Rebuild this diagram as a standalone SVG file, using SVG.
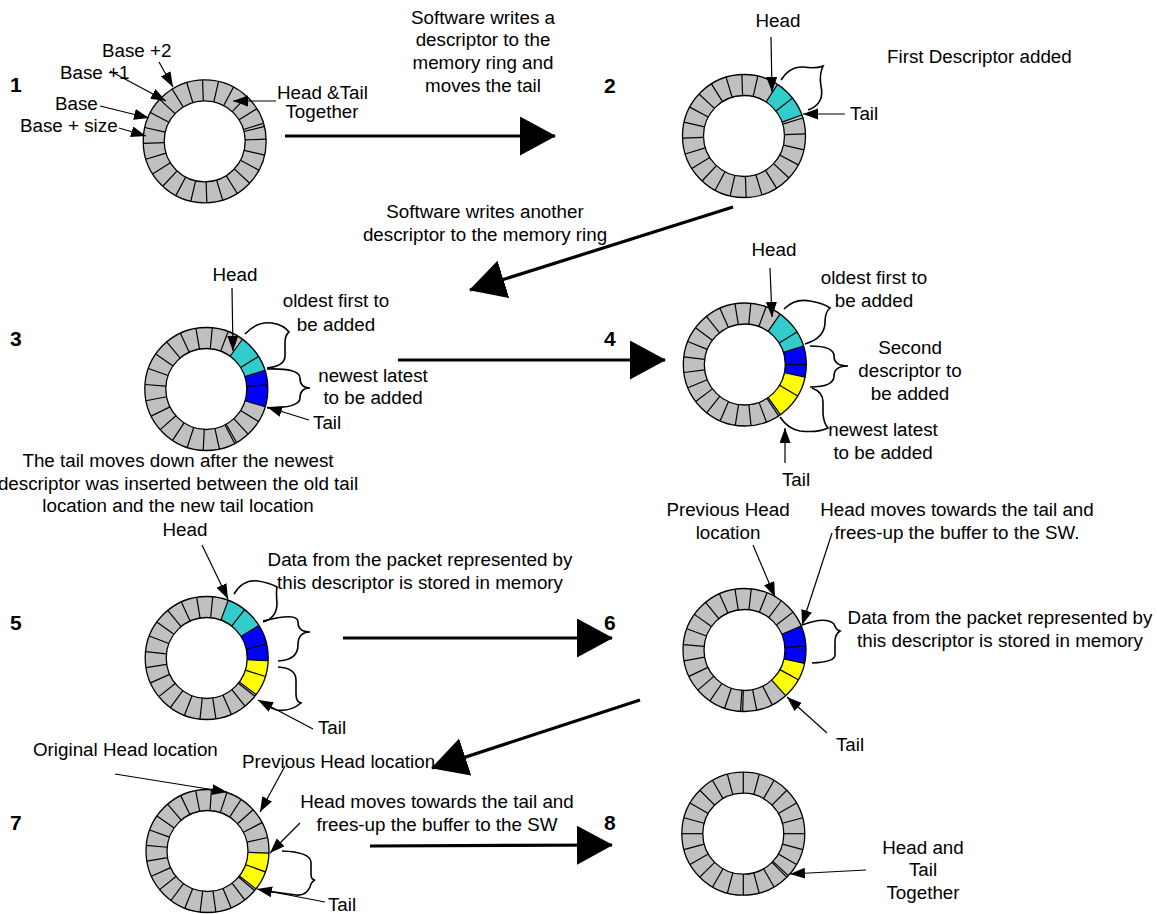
<svg xmlns="http://www.w3.org/2000/svg" xmlns:xlink="http://www.w3.org/1999/xlink" width="1157" height="914" viewBox="0 0 1157 914">
<style>
.t{font-family:"Liberation Sans",Arial,sans-serif;font-size:18.8px;fill:#000}
.m{text-anchor:middle}
.n{font-weight:bold;font-size:21px}
.band{fill:none;stroke:#c0c0c0;stroke-width:21}
.edge{fill:none;stroke:#000;stroke-width:1.3}
.cy{fill:none;stroke:#33cccc;stroke-width:21}
.bl{fill:none;stroke:#0000ff;stroke-width:21}
.ye{fill:none;stroke:#ffff00;stroke-width:21}
.arr{stroke:#000;stroke-width:1.2;fill:none;marker-end:url(#ah)}
.big{stroke:#000;stroke-width:3.2;fill:none;marker-end:url(#bh)}
.br{fill:none;stroke:#000;stroke-width:1.6}
</style>
<defs>
<marker id="ah" markerUnits="userSpaceOnUse" markerWidth="16" markerHeight="12" refX="15" refY="5.5" orient="auto"><path d="M0,0 L15,5.5 L0,11 z" fill="#000"/></marker>
<marker id="bh" markerUnits="userSpaceOnUse" markerWidth="37" markerHeight="40" refX="35" refY="19.5" orient="auto"><path d="M0,0 L36,19.5 L0,39 z" fill="#000"/></marker>
<line id="d" x1="40.5" y1="0" x2="61.5" y2="0" stroke="#000" stroke-width="1.2"/>
</defs>

<g id="ring1" transform="translate(204.7,141.3)">
<circle class="band" r="51"/>
<use href="#d" transform="rotate(-2)"/><use href="#d" transform="rotate(-17)"/><use href="#d" transform="rotate(-14)"/><use href="#d" transform="rotate(-32)"/><use href="#d" transform="rotate(-47)"/><use href="#d" transform="rotate(-62)"/><use href="#d" transform="rotate(-77)"/><use href="#d" transform="rotate(-92)"/><use href="#d" transform="rotate(-107)"/><use href="#d" transform="rotate(-122)"/><use href="#d" transform="rotate(-137)"/><use href="#d" transform="rotate(-152)"/><use href="#d" transform="rotate(-167)"/><use href="#d" transform="rotate(-182)"/><use href="#d" transform="rotate(-197)"/><use href="#d" transform="rotate(-212)"/><use href="#d" transform="rotate(-227)"/><use href="#d" transform="rotate(-242)"/><use href="#d" transform="rotate(-257)"/><use href="#d" transform="rotate(-272)"/><use href="#d" transform="rotate(-287)"/><use href="#d" transform="rotate(-302)"/><use href="#d" transform="rotate(-317)"/><use href="#d" transform="rotate(-332)"/><use href="#d" transform="rotate(-347)"/>
<circle class="edge" r="61.5"/><circle class="edge" r="40.5"/>
</g>

<g id="ring2" transform="translate(744,136)">
<circle class="band" r="51"/>
<circle class="cy" r="51" pathLength="360" stroke-dasharray="37 400" transform="rotate(-57)"/>
<use href="#d" transform="rotate(-57)"/><use href="#d" transform="rotate(-38)"/><use href="#d" transform="rotate(-20)"/><use href="#d" transform="rotate(-17)"/><use href="#d" transform="rotate(-77)"/><use href="#d" transform="rotate(-92)"/><use href="#d" transform="rotate(-107)"/><use href="#d" transform="rotate(-122)"/><use href="#d" transform="rotate(-137)"/><use href="#d" transform="rotate(-152)"/><use href="#d" transform="rotate(-167)"/><use href="#d" transform="rotate(-182)"/><use href="#d" transform="rotate(-197)"/><use href="#d" transform="rotate(-212)"/><use href="#d" transform="rotate(-227)"/><use href="#d" transform="rotate(-242)"/><use href="#d" transform="rotate(-257)"/><use href="#d" transform="rotate(-272)"/><use href="#d" transform="rotate(-287)"/><use href="#d" transform="rotate(-302)"/><use href="#d" transform="rotate(-317)"/><use href="#d" transform="rotate(-332)"/><use href="#d" transform="rotate(-347)"/><use href="#d" transform="rotate(-2)"/>
<circle class="edge" r="61.5"/><circle class="edge" r="40.5"/>
</g>

<g id="ring3" transform="translate(206.3,389)">
<circle class="band" r="51"/>
<circle class="cy" r="51" pathLength="360" stroke-dasharray="36.3 400" transform="rotate(-54)"/>
<circle class="bl" r="51" pathLength="360" stroke-dasharray="34.5 400" transform="rotate(-17.7)"/>
<use href="#d" transform="rotate(-54)"/><use href="#d" transform="rotate(-32)"/><use href="#d" transform="rotate(-17.7)"/><use href="#d" transform="rotate(-3.8)"/><use href="#d" transform="rotate(16.8)"/><use href="#d" transform="rotate(-69.2)"/><use href="#d" transform="rotate(-84.4)"/><use href="#d" transform="rotate(-99.7)"/><use href="#d" transform="rotate(-114.9)"/><use href="#d" transform="rotate(-130.1)"/><use href="#d" transform="rotate(-145.3)"/><use href="#d" transform="rotate(-160.5)"/><use href="#d" transform="rotate(-175.8)"/><use href="#d" transform="rotate(-191)"/><use href="#d" transform="rotate(-206.2)"/><use href="#d" transform="rotate(-221.4)"/><use href="#d" transform="rotate(-236.7)"/><use href="#d" transform="rotate(-251.9)"/><use href="#d" transform="rotate(-267.1)"/><use href="#d" transform="rotate(-282.3)"/><use href="#d" transform="rotate(-297.5)"/><use href="#d" transform="rotate(-299.5)"/><use href="#d" transform="rotate(-312.8)"/><use href="#d" transform="rotate(-328)"/>
<circle class="edge" r="61.5"/><circle class="edge" r="40.5"/>
</g>

<g id="ring4" transform="translate(744.8,364.5)">
<circle class="band" r="51"/>
<circle class="cy" r="51" pathLength="360" stroke-dasharray="37.5 400" transform="rotate(-55)"/>
<circle class="bl" r="51" pathLength="360" stroke-dasharray="29.3 400" transform="rotate(-17.5)"/>
<circle class="ye" r="51" pathLength="360" stroke-dasharray="42.9 400" transform="rotate(11.8)"/>
<use href="#d" transform="rotate(-55)"/><use href="#d" transform="rotate(-32)"/><use href="#d" transform="rotate(-17.5)"/><use href="#d" transform="rotate(0)"/><use href="#d" transform="rotate(11.8)"/><use href="#d" transform="rotate(30.7)"/><use href="#d" transform="rotate(54.7)"/><use href="#d" transform="rotate(56.7)"/><use href="#d" transform="rotate(-69.7)"/><use href="#d" transform="rotate(-84.4)"/><use href="#d" transform="rotate(-99.2)"/><use href="#d" transform="rotate(-113.9)"/><use href="#d" transform="rotate(-128.6)"/><use href="#d" transform="rotate(-143.3)"/><use href="#d" transform="rotate(-158.1)"/><use href="#d" transform="rotate(-172.8)"/><use href="#d" transform="rotate(-187.5)"/><use href="#d" transform="rotate(-202.2)"/><use href="#d" transform="rotate(-217)"/><use href="#d" transform="rotate(-231.7)"/><use href="#d" transform="rotate(-246.4)"/><use href="#d" transform="rotate(-261.1)"/><use href="#d" transform="rotate(-275.8)"/><use href="#d" transform="rotate(-290.6)"/>
<circle class="edge" r="61.5"/><circle class="edge" r="40.5"/>
</g>

<g id="ring5" transform="translate(206.7,658)">
<circle class="band" r="51"/>
<circle class="cy" r="51" pathLength="360" stroke-dasharray="37.5 400" transform="rotate(-69.5)"/>
<circle class="bl" r="51" pathLength="360" stroke-dasharray="34.5 400" transform="rotate(-32)"/>
<circle class="ye" r="51" pathLength="360" stroke-dasharray="34 400" transform="rotate(2.5)"/>
<use href="#d" transform="rotate(-69.5)"/><use href="#d" transform="rotate(-52)"/><use href="#d" transform="rotate(-32)"/><use href="#d" transform="rotate(-13)"/><use href="#d" transform="rotate(2.5)"/><use href="#d" transform="rotate(17.5)"/><use href="#d" transform="rotate(36.5)"/><use href="#d" transform="rotate(38.5)"/><use href="#d" transform="rotate(-84.4)"/><use href="#d" transform="rotate(-99.4)"/><use href="#d" transform="rotate(-114.3)"/><use href="#d" transform="rotate(-129.3)"/><use href="#d" transform="rotate(-144.2)"/><use href="#d" transform="rotate(-159.1)"/><use href="#d" transform="rotate(-174.1)"/><use href="#d" transform="rotate(-189)"/><use href="#d" transform="rotate(-203.9)"/><use href="#d" transform="rotate(-218.9)"/><use href="#d" transform="rotate(-233.8)"/><use href="#d" transform="rotate(-248.8)"/><use href="#d" transform="rotate(-263.7)"/><use href="#d" transform="rotate(-278.6)"/><use href="#d" transform="rotate(-293.6)"/><use href="#d" transform="rotate(-308.5)"/>
<circle class="edge" r="61.5"/><circle class="edge" r="40.5"/>
</g>

<g id="ring6" transform="translate(744.5,650)">
<circle class="band" r="51"/>
<circle class="bl" r="51" pathLength="360" stroke-dasharray="35.4 400" transform="rotate(-22.8)"/>
<circle class="ye" r="51" pathLength="360" stroke-dasharray="35.4 400" transform="rotate(12.6)"/>
<use href="#d" transform="rotate(-22.8)"/><use href="#d" transform="rotate(-3.8)"/><use href="#d" transform="rotate(12.6)"/><use href="#d" transform="rotate(29)"/><use href="#d" transform="rotate(48)"/><use href="#d" transform="rotate(-38)"/><use href="#d" transform="rotate(-53.2)"/><use href="#d" transform="rotate(-68.5)"/><use href="#d" transform="rotate(-83.7)"/><use href="#d" transform="rotate(-98.9)"/><use href="#d" transform="rotate(-114.1)"/><use href="#d" transform="rotate(-129.3)"/><use href="#d" transform="rotate(-144.6)"/><use href="#d" transform="rotate(-159.8)"/><use href="#d" transform="rotate(-175)"/><use href="#d" transform="rotate(-190.2)"/><use href="#d" transform="rotate(-205.4)"/><use href="#d" transform="rotate(-220.7)"/><use href="#d" transform="rotate(-235.9)"/><use href="#d" transform="rotate(-251.1)"/><use href="#d" transform="rotate(-266.3)"/><use href="#d" transform="rotate(-268.3)"/><use href="#d" transform="rotate(-281.5)"/><use href="#d" transform="rotate(-296.8)"/>
<circle class="edge" r="61.5"/><circle class="edge" r="40.5"/>
</g>

<g id="ring7" transform="translate(207.5,851)">
<circle class="band" r="51"/>
<circle class="ye" r="51" pathLength="360" stroke-dasharray="36 400" transform="rotate(2)"/>
<use href="#d" transform="rotate(2)"/><use href="#d" transform="rotate(19.8)"/><use href="#d" transform="rotate(38)"/><use href="#d" transform="rotate(40)"/><use href="#d" transform="rotate(-12.7)"/><use href="#d" transform="rotate(-27.5)"/><use href="#d" transform="rotate(-42.2)"/><use href="#d" transform="rotate(-56.9)"/><use href="#d" transform="rotate(-71.6)"/><use href="#d" transform="rotate(-86.4)"/><use href="#d" transform="rotate(-101.1)"/><use href="#d" transform="rotate(-115.8)"/><use href="#d" transform="rotate(-130.5)"/><use href="#d" transform="rotate(-145.3)"/><use href="#d" transform="rotate(-160)"/><use href="#d" transform="rotate(-174.7)"/><use href="#d" transform="rotate(-189.5)"/><use href="#d" transform="rotate(-204.2)"/><use href="#d" transform="rotate(-218.9)"/><use href="#d" transform="rotate(-233.6)"/><use href="#d" transform="rotate(-248.4)"/><use href="#d" transform="rotate(-263.1)"/><use href="#d" transform="rotate(-277.8)"/><use href="#d" transform="rotate(-292.5)"/><use href="#d" transform="rotate(-307.3)"/>
<circle class="edge" r="61.5"/><circle class="edge" r="40.5"/>
</g>

<g id="ring8" transform="translate(743.3,833.7)">
<circle class="band" r="51"/>
<use href="#d" transform="rotate(0)"/><use href="#d" transform="rotate(15)"/><use href="#d" transform="rotate(30)"/><use href="#d" transform="rotate(43)"/><use href="#d" transform="rotate(45)"/><use href="#d" transform="rotate(60)"/><use href="#d" transform="rotate(75)"/><use href="#d" transform="rotate(90)"/><use href="#d" transform="rotate(105)"/><use href="#d" transform="rotate(120)"/><use href="#d" transform="rotate(135)"/><use href="#d" transform="rotate(150)"/><use href="#d" transform="rotate(165)"/><use href="#d" transform="rotate(180)"/><use href="#d" transform="rotate(195)"/><use href="#d" transform="rotate(210)"/><use href="#d" transform="rotate(225)"/><use href="#d" transform="rotate(240)"/><use href="#d" transform="rotate(255)"/><use href="#d" transform="rotate(270)"/><use href="#d" transform="rotate(285)"/><use href="#d" transform="rotate(300)"/><use href="#d" transform="rotate(315)"/><use href="#d" transform="rotate(330)"/><use href="#d" transform="rotate(345)"/>
<circle class="edge" r="61.5"/><circle class="edge" r="40.5"/>
</g>

<g id="connectors">
<path class="big" d="M285,136 L555,136"/>
<path class="big" d="M733,207 L470,290"/>
<path class="big" d="M398,360 L665,360"/>
<path class="big" d="M343,638 L612,638"/>
<path class="big" d="M640,700 L432,768"/>
<path class="big" d="M370,846 L612,845"/>
<path class="arr" d="M159,62 L173,87"/>
<path class="arr" d="M110,71 L166,101"/>
<path class="arr" d="M100,106 L149,118"/>
<path class="arr" d="M119,128 L146,136"/>
<path class="arr" d="M276,101 L233,101"/>
<path class="arr" d="M771,37 L772,92"/>
<path class="arr" d="M845,114 L803,114"/>
<path class="arr" d="M232,288 L233,351"/>
<path class="arr" d="M309,420 L267,407"/>
<path class="arr" d="M770,268 L772,317"/>
<path class="arr" d="M785,463 L785,428"/>
<path class="arr" d="M202,545 L228,599"/>
<path class="arr" d="M313,729 L258,700"/>
<path class="arr" d="M753,545 L775,597"/>
<path class="arr" d="M832,533 L802,625"/>
<path class="arr" d="M827,733 L787,697"/>
<path class="arr" d="M115,774 L227,792"/>
<path class="arr" d="M285,766 L260,812"/>
<path class="arr" d="M300,823 L270,853"/>
<path class="arr" d="M325,902 L257,889"/>
<path class="arr" d="M866,870 L790,874"/>
<path class="br" d="M781,80 Q790,66 803,67 Q816,69 823,66 Q819,75 821,86 Q825,104 808,110"/>
<path class="br" d="M245,334 Q257,321 272,323 Q284,325 289,332 Q285,335 285,343 L285,356 Q285,366 267,368"/>
<path class="br" d="M267,369 Q300,368 300,378 Q300,388 310,388 Q300,388 300,398 Q300,408 267,408"/>
<path class="br" d="M784,309 Q795,298 810,301 Q823,303 830,308 Q825,312 825,322 Q825,338 805,344"/>
<path class="br" d="M810,346 Q834,346 834,356 Q834,366 848,366 Q834,366 834,376 Q834,387 810,387"/>
<path class="br" d="M812,388 Q823,392 823,402 L823,414 Q824,424 828,428 Q818,433 800,431 Q788,429 780,417"/>
<path class="br" d="M234,594 Q243,579 258,581 Q270,583 277,587 Q276,592 277,603 Q277,618 263,622"/>
<path class="br" d="M263,621 Q298,612 298,622 Q298,632 310,632 Q298,632 298,645 Q298,660 278,661"/>
<path class="br" d="M278,667 Q296,668 296,680 L296,694 Q296,702 301,703 Q290,712 277,710 Q268,708 265,702"/>
<path class="br" d="M802,625 Q826,616 834,624 Q836,630 840,631 Q835,634 835,642 L835,655 Q835,662 812,663"/>
<path class="br" d="M282,851 Q310,852 311,862 L311,874 Q311,880 315,880 Q311,882 310,887 Q306,896 296,895 L260,890"/>
</g>

<g id="labels">
<text class="t n" x="10" y="92">1</text>
<text class="t n" x="604" y="93">2</text>
<text class="t n" x="10" y="346">3</text>
<text class="t n" x="604" y="346">4</text>
<text class="t n" x="10" y="630">5</text>
<text class="t n" x="604" y="630">6</text>
<text class="t n" x="10" y="830">7</text>
<text class="t n" x="604" y="830">8</text>

<text class="t" x="102" y="57">Base +2</text>
<text class="t" x="60" y="79">Base +1</text>
<text class="t" x="55" y="110">Base</text>
<text class="t" x="20" y="132">Base + size</text>
<text class="t" x="277" y="99">Head &amp;Tail</text>
<text class="t m" x="322" y="118">Together</text>

<text class="t m" x="483" y="24">Software writes a</text>
<text class="t m" x="483" y="46">descriptor to the</text>
<text class="t m" x="483" y="69">memory ring and</text>
<text class="t m" x="483" y="92">moves the tail</text>

<text class="t m" x="778" y="27">Head</text>
<text class="t" x="887" y="63">First Descriptor added</text>
<text class="t" x="850" y="120">Tail</text>

<text class="t m" x="485" y="218">Software writes another</text>
<text class="t m" x="485" y="241">descriptor to the memory ring</text>

<text class="t m" x="235" y="281">Head</text>
<text class="t m" x="336" y="307">oldest first to</text>
<text class="t m" x="336" y="331">be added</text>
<text class="t m" x="373" y="382">newest latest</text>
<text class="t m" x="373" y="404">to be added</text>
<text class="t" x="313" y="429">Tail</text>
<text class="t m" x="178" y="467">The tail moves down after the newest</text>
<text class="t m" x="178" y="490">descriptor was inserted between the old tail</text>
<text class="t m" x="178" y="512">location and the new tail location</text>

<text class="t m" x="774" y="256">Head</text>
<text class="t m" x="874" y="284">oldest first to</text>
<text class="t m" x="874" y="307">be added</text>
<text class="t m" x="910" y="354">Second</text>
<text class="t m" x="910" y="377">descriptor to</text>
<text class="t m" x="910" y="400">be added</text>
<text class="t m" x="883" y="436">newest latest</text>
<text class="t m" x="883" y="459">to be added</text>
<text class="t m" x="796" y="486">Tail</text>

<text class="t m" x="185" y="536">Head</text>
<text class="t m" x="420" y="566">Data from the packet represented by</text>
<text class="t m" x="420" y="589">this descriptor is stored in memory</text>
<text class="t m" x="332" y="734">Tail</text>

<text class="t m" x="728" y="516">Previous Head</text>
<text class="t m" x="728" y="539">location</text>
<text class="t m" x="957" y="516">Head moves towards the tail and</text>
<text class="t m" x="957" y="539">frees-up the buffer to the SW.</text>
<text class="t m" x="1000" y="624">Data from the packet represented by</text>
<text class="t m" x="1000" y="647">this descriptor is stored in memory</text>
<text class="t m" x="850" y="751">Tail</text>

<text class="t" x="33" y="756">Original Head location</text>
<text class="t" x="242" y="768">Previous Head location</text>
<text class="t m" x="437" y="808">Head moves towards the tail and</text>
<text class="t m" x="437" y="831">frees-up the buffer to the SW</text>
<text class="t m" x="342" y="911">Tail</text>

<text class="t m" x="923" y="854">Head and</text>
<text class="t m" x="923" y="876">Tail</text>
<text class="t m" x="923" y="899">Together</text>
</g>
</svg>
